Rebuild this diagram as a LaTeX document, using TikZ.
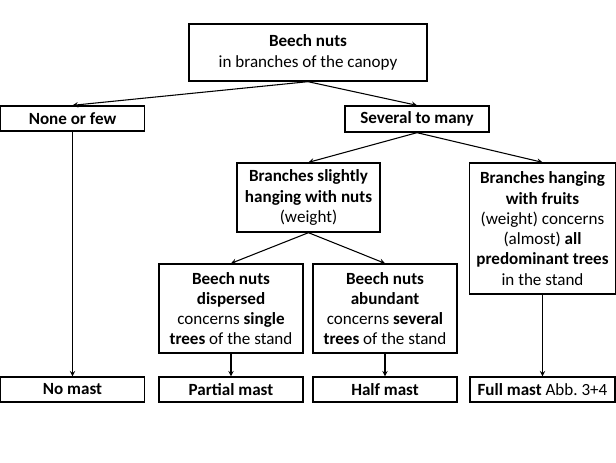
\documentclass[tikz,border=0pt]{standalone}
\usepackage{fontspec}
\setmainfont{Carlito}
\usepackage{tikz}
\usetikzlibrary{arrows}
\tikzstyle{arrow} = [line width=0.8pt,->,>=stealth]
\tikzstyle{plainRec} = [rectangle, draw=black, line width=1pt, align=center, text centered, inner sep=1pt, minimum width=108pt, font=\fontsize{12.8}{15.2}\selectfont]

\begin{document}
\begin{tikzpicture}[x=0.75pt, y=-0.75pt]
		\useasboundingbox (0,0) rectangle (616,462);
		\node (canopy) [plainRec, minimum width=178.5pt, minimum height=42.75pt] at (308,52.5) {\textbf{Beech nuts}\\in branches of the canopy};
		\node (nonefew) [plainRec, minimum height=18.75pt] at (72.5,118.5) {\textbf{None or few}};
		\node (several) [plainRec, minimum height=19.5pt] at (417,119) {\textbf{Several to many}};
		\node (slightly) [plainRec, minimum width=107.25pt, minimum height=51.75pt] at (308.5,197.5) {\textbf{Branches slightly}\\\textbf{hanging with nuts}\\(weight)};
		\node (hanging) [plainRec, minimum width=109.5pt, minimum height=98.25pt] at (542.5,228.5) {\textbf{Branches hanging}\\\textbf{with fruits}\\(weight) concerns\\(almost) \textbf{all}\\\textbf{predominant trees}\\in the stand};
		\node (dispersed) [plainRec, minimum height=66.75pt] at (231,308.5) {\textbf{Beech nuts}\\\textbf{dispersed}\\concerns \textbf{single}\\\textbf{trees} of the stand};
		\node (abundant) [plainRec, minimum height=66.75pt] at (385,308.5) {\textbf{Beech nuts}\\\textbf{abundant}\\concerns \textbf{several}\\\textbf{trees} of the stand};
		\node (nomast) [plainRec, minimum height=18.75pt] at (72.5,389.5) {\textbf{No mast}};
		\node (partial) [plainRec, minimum height=18.75pt] at (231,389.5) {\textbf{Partial mast}};
		\node (half) [plainRec, minimum height=18.75pt] at (385,389.5) {\textbf{Half mast}};
		\node (full) [plainRec, minimum width=108.75pt, minimum height=18.75pt] at (542.5,389.5) {\textbf{Full mast} Abb.~3+4};
		\draw [arrow] (canopy.south) -- (nonefew.north);
		\draw [arrow] (canopy.south) -- (several.north);
		\draw [arrow] (several.south) -- (slightly.north);
		\draw [arrow] (several.south) -- (hanging.north);
		\draw [arrow] (slightly.south) -- (dispersed.north);
		\draw [arrow] (slightly.south) -- (abundant.north);
		\draw [arrow] (nonefew.south) -- (nomast.north);
		\draw [arrow] (dispersed.south) -- (partial.north);
		\draw [arrow] (abundant.south) -- (half.north);
		\draw [arrow] (hanging.south) -- (full.north);
	\end{tikzpicture}
\end{document}
